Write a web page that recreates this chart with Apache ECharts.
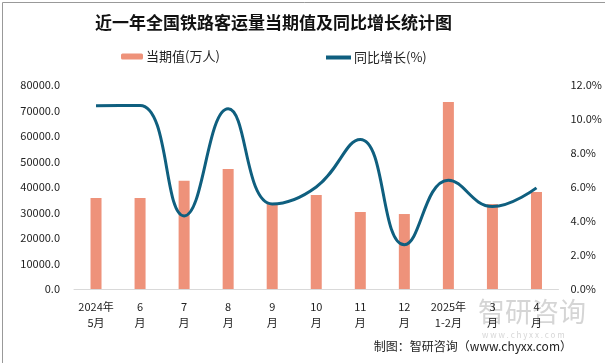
<!DOCTYPE html>
<html><head><meta charset="utf-8">
<script src="https://cdn.jsdelivr.net/npm/echarts@6/dist/echarts.min.js"></script>
<style>html,body{margin:0;padding:0;background:#fff}#c{width:605px;height:363px}</style>
</head><body><div id="c"></div>
<script>
var categories = ['2024年\n5月','6\n月','7\n月','8\n月','9\n月','10\n月','11\n月','12\n月','2025年\n1-2月','3\n月','4\n月'];
var currentValues = [35700, 35700, 42500, 47100, 33700, 36900, 30200, 29400, 73300, 33300, 38000];
var yoyGrowth = [10.78, 10.8, 4.3, 10.6, 5.0, 6.0, 8.8, 2.6, 6.4, 4.85, 5.95];
var leftTicks = {min: 0, max: 80000, interval: 10000};
var rightTicks = {min: 0, max: 12, interval: 2};
var F = '"Noto Sans CJK SC", "Noto Sans", sans-serif';
var chart = echarts.init(document.getElementById('c'), null, {renderer: 'canvas'});
chart.setOption({
  animation: false,
  backgroundColor: '#fff',
  title: {text: '近一年全国铁路客运量当期值及同比增长统计图', left: 90, top: 9,
    textStyle: {fontFamily: F, fontSize: 17, fontWeight: 'bold', color: '#111'}},
  legend: [
    {data: ['当期值(万人)'], left: 116, top: 45, itemWidth: 22, itemHeight: 6, itemGap: 4,
     textStyle: {fontFamily: F, fontSize: 13, color: '#222', padding: [0, 0, 0, -2]}},
    {data: [{name: '同比增长(%)', icon: 'rect'}], left: 321, top: 46, itemWidth: 25, itemHeight: 4,
     textStyle: {fontFamily: F, fontSize: 13, color: '#222', padding: [0, 0, 0, -2]}}
  ],
  grid: {left: 74, right: 45, top: 85, bottom: 74},
  xAxis: {type: 'category', data: categories,
    axisLine: {lineStyle: {color: '#d9d9d9'}}, axisTick: {show: false},
    axisLabel: {interval: 0, fontFamily: F, fontSize: 11, color: '#222', lineHeight: 16, margin: 10}},
  yAxis: [
    {type: 'value', min: leftTicks.min, max: leftTicks.max, interval: leftTicks.interval,
     splitLine: {show: false}, axisLine: {show: false}, axisTick: {show: false},
     axisLabel: {formatter: function(v){return v.toFixed(1);}, fontFamily: F, fontSize: 11, color: '#222', margin: 14}},
    {type: 'value', min: rightTicks.min, max: rightTicks.max, interval: rightTicks.interval,
     splitLine: {show: false}, axisLine: {show: false}, axisTick: {show: false},
     axisLabel: {formatter: function(v){return v.toFixed(1) + '%';}, fontFamily: F, fontSize: 11, color: '#222', margin: 12}}
  ],
  series: [
    {name: '当期值(万人)', type: 'bar', data: currentValues, barWidth: 11,
     itemStyle: {color: '#EE927A'}},
    {name: '同比增长(%)', type: 'line', yAxisIndex: 1, data: yoyGrowth, smooth: 0.45,
     symbol: 'none', lineStyle: {color: '#0F5F7F', width: 3}, itemStyle: {color: '#0F5F7F'}}
  ],
  graphic: [
    {type: 'rect', left: 0, top: 0, shape: {width: 604, height: 362}, style: {fill: 'none', stroke: '#999', lineWidth: 1}, silent: true},
    {type: 'text', left: 478, top: 298, style: {text: '智研咨询', fontFamily: F, fontSize: 27, fill: 'rgba(150,150,150,0.4)'}, silent: true},
    {type: 'text', left: 482, top: 331, style: {text: 'w w w . c h y x x . c o m', fontFamily: F, fontSize: 8, fill: 'rgba(150,150,150,0.4)'}, silent: true},
    {type: 'text', right: 33, top: 340, style: {text: '制图：智研咨询（www.chyxx.com）', fontFamily: F, fontSize: 12, fill: '#222'}, silent: true}
  ]
});
</script></body></html>
